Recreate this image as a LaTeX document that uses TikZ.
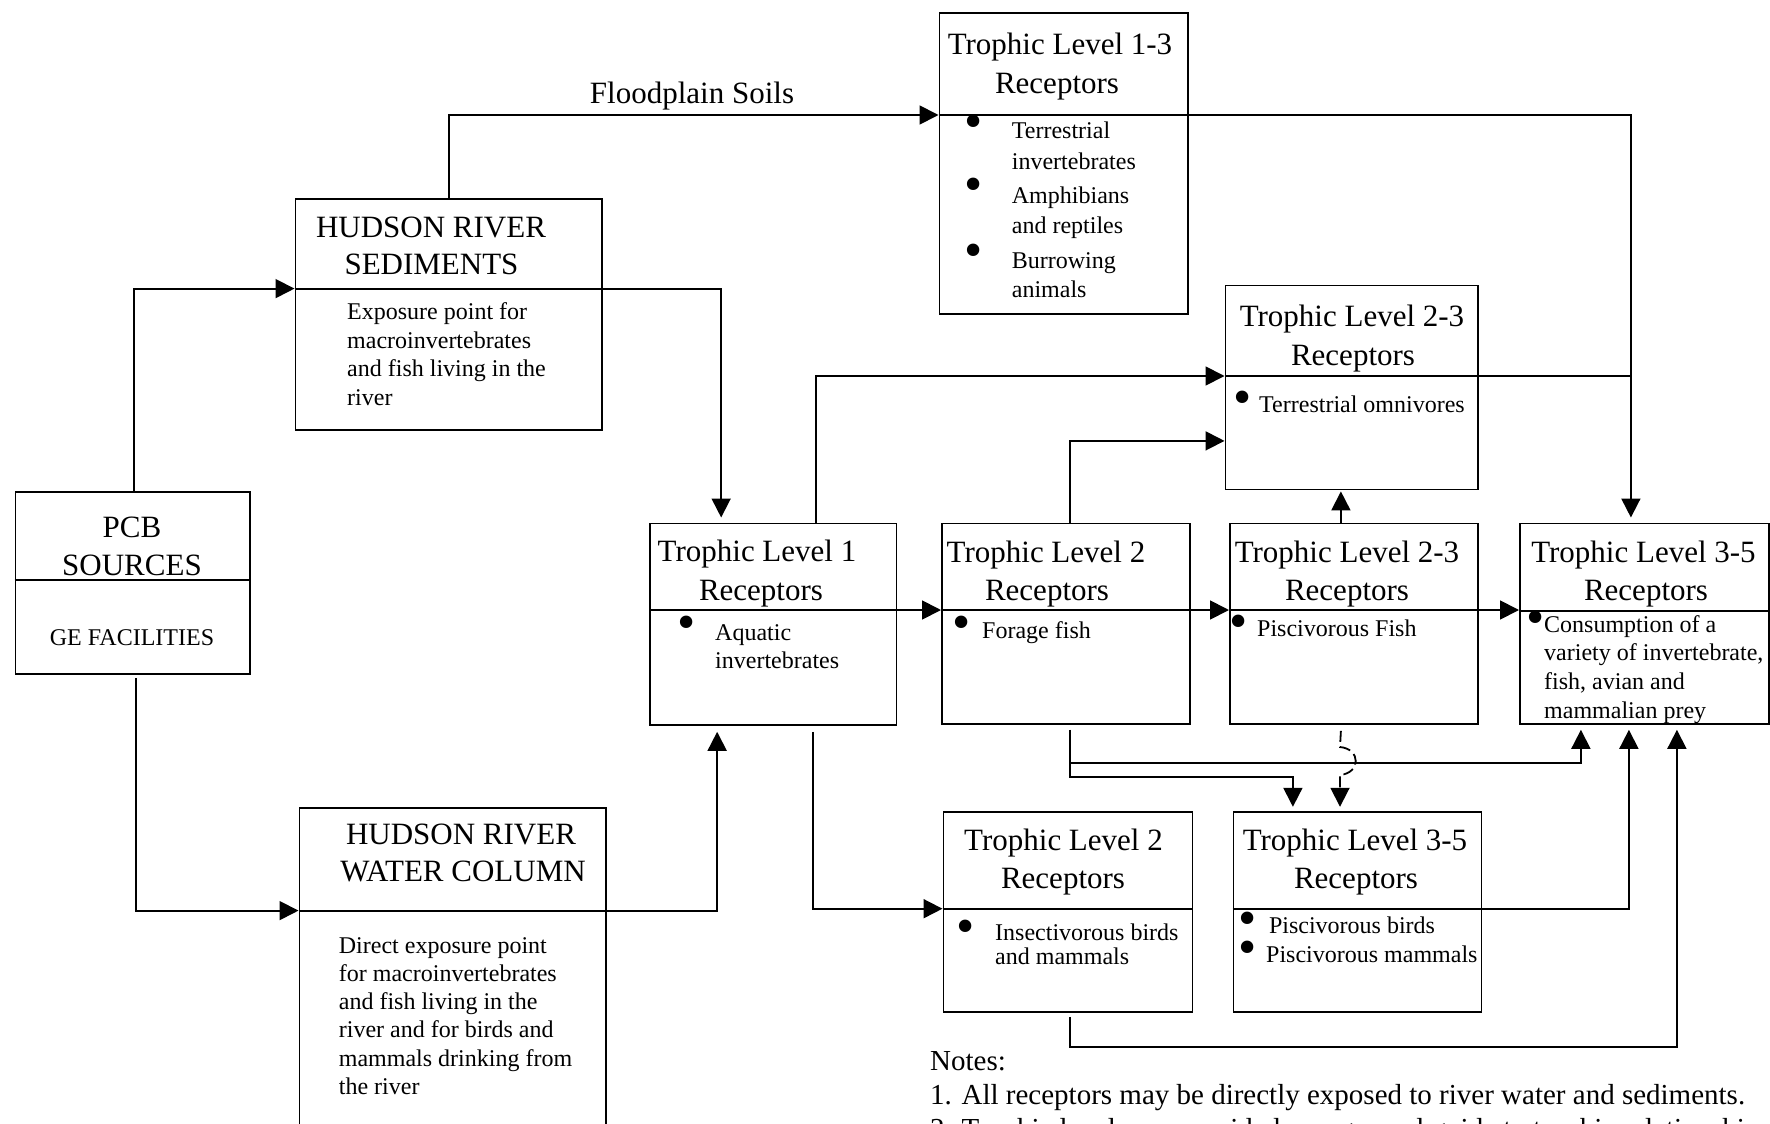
\documentclass[tikz,border=0pt]{standalone}
\usepackage{fontspec}
\setmainfont{Liberation Serif}
\usetikzlibrary{arrows.meta}
\tikzset{
  ln/.style={line width=1.8pt},
  arr/.style={ln,-{Triangle[length=19pt,width=19pt]}},
  boxst/.style={draw,ln,inner sep=0pt,anchor=north west},
  ttl/.style={font=\fontsize{31}{31}\selectfont,inner sep=0pt,anchor=base},
  bdy/.style={font=\fontsize{24}{24}\selectfont,inner sep=0pt,anchor=base west},
  bul/.style={font=\fontsize{52}{52}\selectfont,inner sep=0pt,anchor=center},
  nts/.style={font=\fontsize{29}{29}\selectfont,inner sep=0pt,anchor=base west},
}
\newcommand\mkbox[6]{%
  \node[boxst,minimum width=#4pt,minimum height=#5pt] (#1) at (#2,#3) {};
  \coordinate (#1D) at (0,#6);
  \draw[ln] (#1.west |- #1D) -- (#1.east |- #1D);
}
\begin{document}
\begin{tikzpicture}[x=1pt,y=-1pt]
\useasboundingbox (0,0) rectangle (1770,1124);
\clip (0,0) rectangle (1770,1124);
\fill[white] (0,0) rectangle (1770,1124);

% boxes
\mkbox{pcb}{14.5}{491}{234.5}{182}{580}
\mkbox{sed}{294.5}{198}{306.5}{231}{288.6}
\mkbox{tla}{938.5}{12.5}{248.5}{300.5}{115}
\mkbox{tlu}{1224.5}{284.6}{252.5}{204}{376}
\mkbox{tlb}{649}{522.5}{246.5}{201.5}{610}
\mkbox{tlc}{941}{522.5}{248}{200.5}{610}
\mkbox{tld}{1229}{522.5}{248}{200.5}{610}
\mkbox{tle}{1519}{522.5}{249}{200.5}{611}
\mkbox{tlf}{942.5}{810.8}{249}{200.2}{908.7}
\mkbox{tlg}{1232.5}{810.8}{248}{200.2}{908.7}
\mkbox{wc}{298.5}{806.7}{306.5}{400}{910.6}

% titles
\node[ttl] (pcbt1) at (132,537) {PCB};
\node[ttl] (pcbt2) at (132,575) {SOURCES};
\node[font=\fontsize{24}{24}\selectfont,inner sep=0pt,anchor=base] (pcbt3) at (132,645) {GE FACILITIES};
\node[ttl] (sedt1) at (431,237) {HUDSON RIVER};
\node[ttl] (sedt2) at (431.5,274) {SEDIMENTS};
\node[ttl] (tlat1) at (1060,55) {Trophic Level 1-3};
\node[ttl] (tlat2) at (1057,93) {Receptors};
\node[ttl] (tlut1) at (1352,326) {Trophic Level 2-3};
\node[ttl] (tlut2) at (1353,365) {Receptors};
\node[ttl] (tlbt1) at (757,561) {Trophic Level 1};
\node[ttl] (tlbt2) at (761,600) {Receptors};
\node[ttl] (tlct1) at (1046,562) {Trophic Level 2};
\node[ttl] (tlct2) at (1047,600) {Receptors};
\node[ttl] (tldt1) at (1347,562) {Trophic Level 2-3};
\node[ttl] (tldt2) at (1347,600) {Receptors};
\node[ttl] (tlet1) at (1643.5,562) {Trophic Level 3-5};
\node[ttl] (tlet2) at (1646,600) {Receptors};
\node[ttl] (tlft1) at (1063.5,850) {Trophic Level 2};
\node[ttl] (tlft2) at (1063,888) {Receptors};
\node[ttl] (tlgt1) at (1355,850) {Trophic Level 3-5};
\node[ttl] (tlgt2) at (1356,888) {Receptors};
\node[ttl] (wct1) at (461,844) {HUDSON RIVER};
\node[ttl] (wct2) at (463,881.5) {WATER COLUMN};
\node[ttl] (flood) at (692,103) {Floodplain Soils};

% body texts
\foreach \t [count=\i] in {Exposure point for,macroinvertebrates,and fish living in the,river}
  \node[bdy] (sedb\i) at (347,{319.5+(\i-1)*28.5}) {\t};
\foreach \t [count=\i] in {Direct exposure point,for macroinvertebrates,and fish living in the,river and for birds and,mammals drinking from,the river}
  \node[bdy] (wcb\i) at (338.7,{953+(\i-1)*28.3}) {\t};
\node[bdy] (tlab1) at (1011.7,138) {Terrestrial};
\node[bdy] (tlab2) at (1011.7,169.5) {invertebrates};
\node[bdy] (tlab3) at (1011.7,203) {Amphibians};
\node[bdy] (tlab4) at (1011.7,233) {and reptiles};
\node[bdy] (tlab5) at (1011.7,268) {Burrowing};
\node[bdy] (tlab6) at (1011.7,297) {animals};
\node[bul] (tlau1) at (973.6,127) {•};
\node[bul] (tlau2) at (973.6,190) {•};
\node[bul] (tlau3) at (973.6,256) {•};
\node[bul] (tluu1) at (1243,403) {•};
\node[bdy] (tlub1) at (1259,412) {Terrestrial omnivores};
\node[bul] (tlbu1) at (687,628) {•};
\node[bdy] (tlbb1) at (715,640) {Aquatic};
\node[bdy] (tlbb2) at (715,668) {invertebrates};
\node[bul] (tlcu1) at (962,628) {•};
\node[bdy] (tlcb1) at (982,638) {Forage fish};
\node[bul] (tldu1) at (1239,627) {•};
\node[bdy] (tldb1) at (1257,636) {Piscivorous Fish};
\node[bul] (tleu1) at (1535.5,622.7) {•};
\foreach \t [count=\i] in {Consumption of a,{variety of invertebrate,},{fish, avian and},mammalian prey}
  \node[bdy] (tleb\i) at (1544,{632+(\i-1)*28.7}) {\t};
\node[bul] (tlfu1) at (966,932) {•};
\node[bdy] (tlfb1) at (995,940) {Insectivorous birds};
\node[bdy] (tlfb2) at (995,964) {and mammals};
\node[bul] (tlgu1) at (1247.8,923.6) {•};
\node[bul] (tlgu2) at (1247.8,953) {•};
\node[bdy] (tlgb1) at (1268.8,933) {Piscivorous birds};
\node[bdy] (tlgb2) at (1266,962) {Piscivorous mammals};

% notes
\node[nts] (n0) at (930,1070) {Notes:};
\node[nts] (n1) at (930,1104) {1. All receptors may be directly exposed to river water and sediments.};
\node[nts] (n2) at (930,1138) {2. Trophic levels are provided as a general guide to trophic relationships.};

% connectors
\draw[arr] ([xshift=1pt]pcb.north) |- (sed.west |- sedD);
\draw[arr,shorten >=5pt] (sed.east |- sedD) -| ([xshift=-52pt]tlb.north);
\draw[arr] (sed.north) |- (tla.west |- tlaD);
\draw[arr,shorten >=5pt] (tla.east |- tlaD) -| ([xshift=-13.5pt]tle.north);
\draw[ln] (tlu.east |- tluD) -- ([xshift=-13.5pt]tle.north |- tluD);
\draw[arr] ([xshift=42.75pt]tlb.north) |- (tlu.west |- tluD);
\draw[arr] ([xshift=4pt]tlc.north) |- ([yshift=-53.4pt]tlu.west);
\draw[arr,shorten >=1pt] ([xshift=-13pt]tld.north) -- ([xshift=-13pt]tld.north |- tlu.south);
\draw[arr] (tlb.east |- tlbD) -- (tlc.west |- tlbD);
\draw[arr] (tlc.east |- tlcD) -- (tld.west |- tlcD);
\draw[arr] (tld.east |- tldD) -- (tle.west |- tldD);
\draw[arr,shorten <=5pt,shorten >=5pt] ([xshift=4pt]tlc.south) |- ([xshift=-63.5pt,yshift=-38pt]tle.south) -- ([xshift=-63.5pt]tle.south);
\draw[arr,shorten <=5pt,shorten >=4pt] ([xshift=4pt]tlc.south) |- ([xshift=-64.5pt,yshift=34pt]tlg.north) -- ([xshift=-64.5pt]tlg.north);
\coordinate (hopa) at (1340,747);
\coordinate (hopb) at (1340,775);
\draw[arr,dash pattern=on 11pt off 5pt,shorten >=4pt] ([xshift=-13pt,yshift=-6pt]tld.south) -- (hopa) .. controls (1361,749) and (1361,773) .. (hopb) -- (tlg.north -| hopb);
\draw[arr,shorten >=5pt] (tlg.east |- tlgD) -| ([xshift=-15.5pt]tle.south);
\draw[arr,shorten <=4pt,shorten >=5pt] ([xshift=2pt]tlf.south) -- ++(0,34) -| ([xshift=32.5pt]tle.south);
\draw[arr,shorten <=6pt] ([xshift=40pt]tlb.south) |- (tlf.west |- tlfD);
\draw[arr,shorten <=3pt] ([xshift=3pt]pcb.south) |- (wc.west |- wcD);
\draw[arr,shorten >=6pt] (wc.east |- wcD) -| ([xshift=-56pt]tlb.south);
\end{tikzpicture}
\end{document}
